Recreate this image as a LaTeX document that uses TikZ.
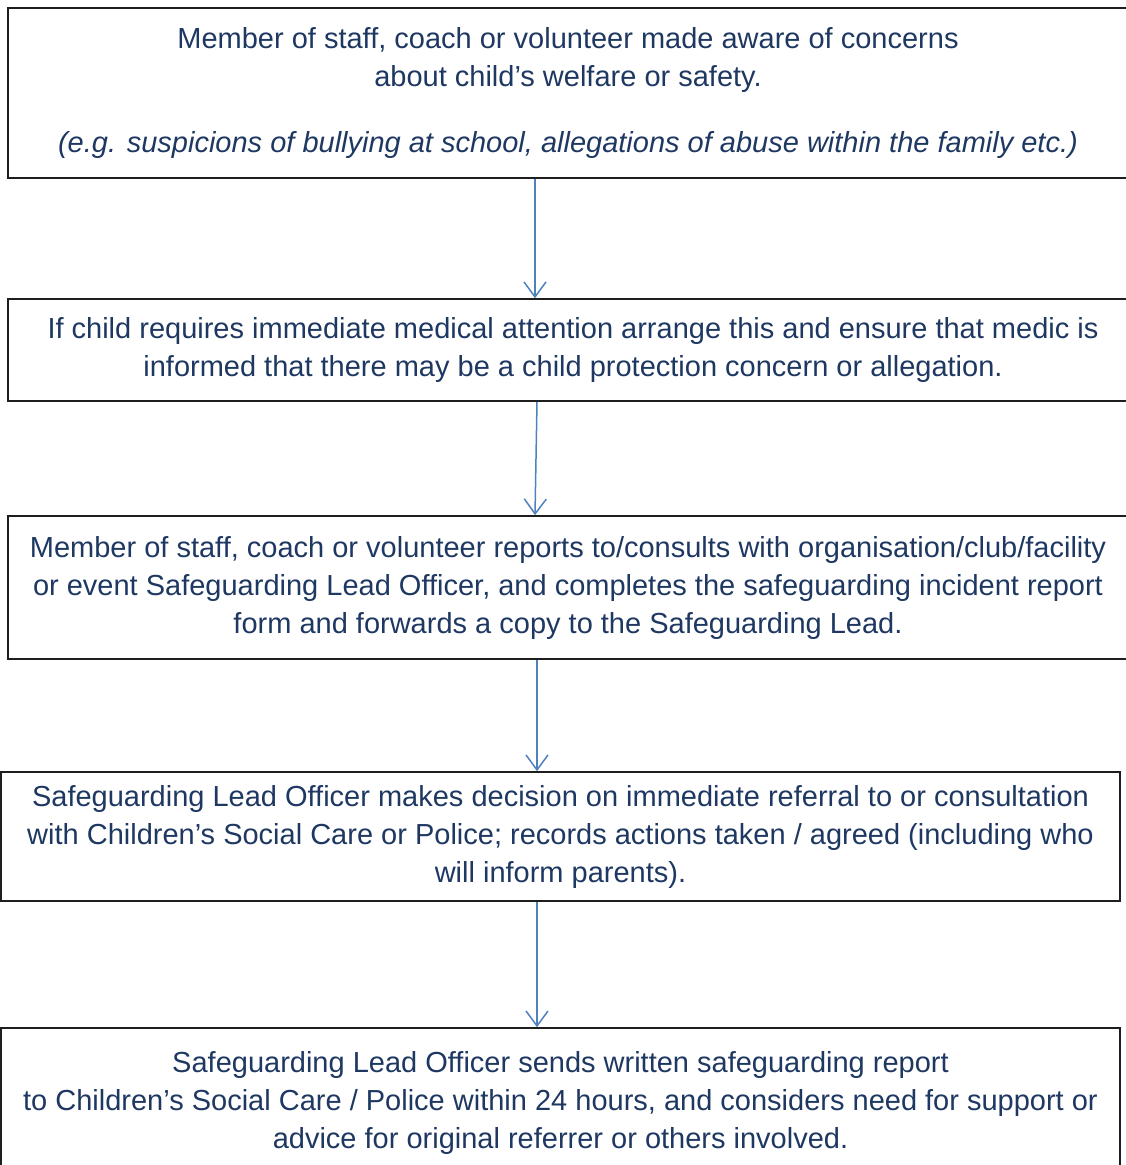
\documentclass[tikz,border=0pt]{standalone}
\usepackage{fontspec}
\setmainfont{Liberation Sans}
\usetikzlibrary{arrows.meta}
\definecolor{txt}{RGB}{30,56,98}
\definecolor{arrowblue}{RGB}{79,129,189}
\definecolor{frame}{RGB}{30,30,30}
\begin{document}
\begin{tikzpicture}[x=1pt,y=-1pt,
  box/.style={draw=frame,line width=1.6pt,rectangle,align=center,text=txt,inner sep=0pt,
    font=\fontsize{29}{38}\selectfont},
  arr/.style={draw=arrowblue,line width=1.5pt,-{Straight Barb[length=15pt,width=22pt,line width=1.5pt]}}]
\useasboundingbox (0,0) rectangle (1125,1165);
\node[box,minimum width=1120pt,minimum height=170pt] (b1) at (568,93)
  {Member of staff, coach or volunteer made aware of concerns\\
   about child’s welfare or safety.\\[28pt]
   \itshape (e.g. suspicions of bullying at school, allegations of abuse within the family etc.)};
\node[box,minimum width=1130pt,minimum height=102pt] (b2) at (573,350)
  {If child requires immediate medical attention arrange this and ensure that medic is\\
   informed that there may be a child protection concern or allegation.};
\node[box,minimum width=1120pt,minimum height=143pt] (b3) at (568,587.5)
  {Member of staff, coach or volunteer reports to/consults with organisation/club/facility\\
   or event Safeguarding Lead Officer, and completes the safeguarding incident report\\
   form and forwards a copy to the Safeguarding Lead.};
\node[box,minimum width=1119pt,minimum height=129pt] (b4) at (560.5,836.5)
  {Safeguarding Lead Officer makes decision on immediate referral to or consultation\\
   with Children’s Social Care or Police; records actions taken / agreed (including who\\
   will inform parents).};
\node[box,minimum width=1119pt,minimum height=150pt] (b5) at (560.5,1103)
  {Safeguarding Lead Officer sends written safeguarding report\\
   to Children’s Social Care / Police within 24 hours, and considers need for support or\\
   advice for original referrer or others involved.};
\coordinate (c1) at (535,0);
\coordinate (c2) at (537,0);
\draw[arr] (b1.south -| c1) -- (b2.north -| c1);
\draw[arr] (b2.south -| c2) -- (b3.north -| c1);
\draw[arr] (b3.south -| c2) -- (b4.north -| c2);
\draw[arr] (b4.south -| c2) -- (b5.north -| c2);
\end{tikzpicture}
\end{document}
